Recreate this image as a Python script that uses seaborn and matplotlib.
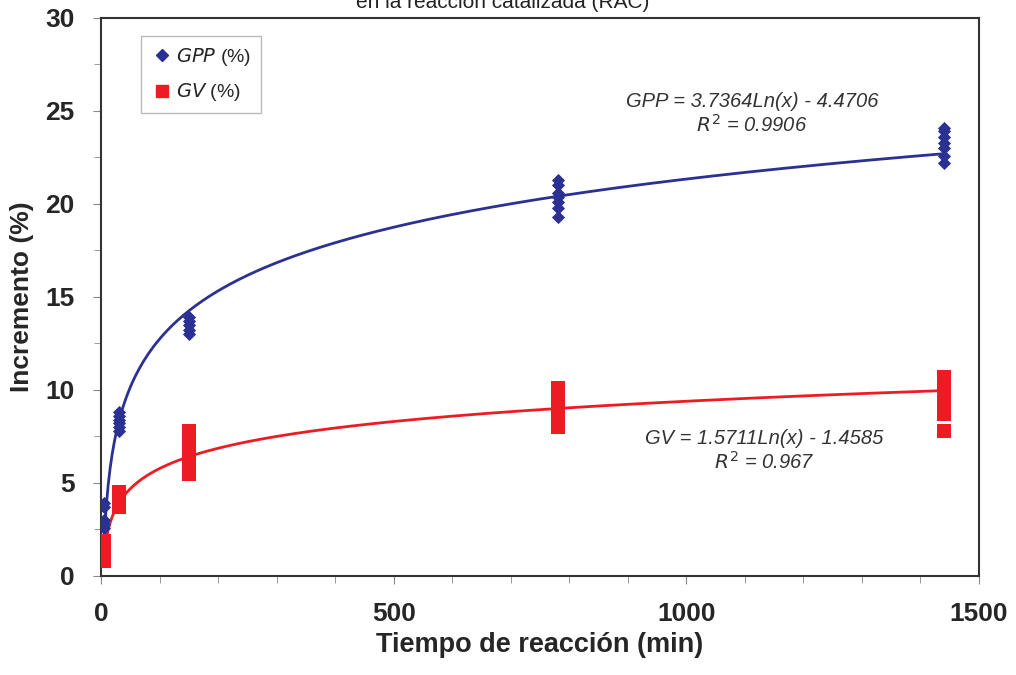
import numpy as np
import pandas as pd
import matplotlib.pyplot as plt
import seaborn as sns
from matplotlib.ticker import MultipleLocator

# tiempo de reacción (min) y réplicas medidas
tiempos = [5, 30, 150, 780, 1440]
gpp_vals = [
    [2.6, 2.8, 3.0, 3.7, 3.9],
    [7.8, 8.0, 8.2, 8.4, 8.6, 8.8],
    [13.0, 13.2, 13.5, 13.7, 13.9],
    [19.3, 19.8, 20.1, 20.4, 20.6, 21.0, 21.3],
    [22.2, 22.6, 23.0, 23.3, 23.6, 23.9, 24.1],
]
gv_vals = [
    [0.8, 1.1, 1.4, 1.7, 1.9],
    [3.7, 4.0, 4.2, 4.5],
    [5.5, 5.8, 6.2, 6.6, 7.0, 7.4, 7.8],
    [8.0, 8.4, 8.8, 9.2, 9.6, 10.1],
    [7.8, 8.7, 9.1, 9.5, 9.9, 10.3, 10.7],
]
# coeficientes de la tendencia logarítmica
gpp_a, gpp_b = 3.7364, -4.4706
gv_a, gv_b = 1.5711, -1.4585

rows = []
for t, g, v in zip(tiempos, gpp_vals, gv_vals):
    rows += [{"t": t, "val": y, "serie": "GPP"} for y in g]
    rows += [{"t": t, "val": y, "serie": "GV"} for y in v]
df = pd.DataFrame(rows)

sns.set_style("white")
plt.rcParams["font.family"] = ["Liberation Sans", "DejaVu Sans"]

blue = "#2b3192"
red = "#ed1c24"

fig = plt.figure(figsize=(10.16, 6.75), dpi=100)
ax = fig.add_axes([0.0994, 0.1467, 0.8642, 0.8267])

xs = np.linspace(5, 1440, 400)
ax.plot(xs, gpp_a * np.log(xs) + gpp_b, color=blue, lw=2, zorder=2)
ax.plot(xs, gv_a * np.log(xs) + gv_b, color=red, lw=2, zorder=2)

sns.scatterplot(data=df[df.serie == "GPP"], x="t", y="val", marker="D",
                color=blue, s=45, edgecolor=blue, linewidth=0, ax=ax, zorder=3)
sns.scatterplot(data=df[df.serie == "GV"], x="t", y="val", marker="s",
                color=red, s=95, edgecolor=red, linewidth=0, ax=ax, zorder=3)

ax.set_xlim(0, 1500)
ax.set_ylim(0, 30)
ax.xaxis.set_major_locator(MultipleLocator(500))
ax.xaxis.set_minor_locator(MultipleLocator(100))
ax.yaxis.set_major_locator(MultipleLocator(5))
ax.yaxis.set_minor_locator(MultipleLocator(2.5))
ax.tick_params(which="both", direction="out", color="#888888", bottom=True, left=True)
ax.tick_params(which="major", length=6, labelsize=19, pad=13)
ax.tick_params(which="minor", length=5)
for lab in ax.get_xticklabels() + ax.get_yticklabels():
    lab.set_fontweight("bold")
for s in ax.spines.values():
    s.set_color("#333333")
    s.set_linewidth(1.5)

ax.set_xlabel("Tiempo de reacción (min)", fontsize=19.5, fontweight="bold", labelpad=4)
ax.set_ylabel("Incremento (%)", fontsize=19, fontweight="bold", labelpad=8)

fig.text(0.495, 0.982, "en la reacción catalizada (RAC)", ha="center", va="bottom",
         fontsize=15, color="#222222")

ax.text(1112, 26.0, "GPP = 3.7364Ln(x) - 4.4706\n$R^2$ = 0.9906", ha="center", va="top",
        fontsize=14.5, style="italic", color="#333333", linespacing=1.15)
ax.text(1133, 7.9, "GV = 1.5711Ln(x) - 1.4585\n$R^2$ = 0.967", ha="center", va="top",
        fontsize=14.5, style="italic", color="#333333", linespacing=1.15)

h1 = plt.Line2D([], [], marker="D", color=blue, ls="none", markersize=6)
h2 = plt.Line2D([], [], marker="s", color=red, ls="none", markersize=8)
leg = ax.legend([h1, h2], ["$\\it{GPP}$ (%)", "$\\it{GV}$ (%)"], loc="upper left",
                bbox_to_anchor=(0.035, 0.985), fontsize=14, frameon=True, fancybox=False,
                handletextpad=0.2, borderpad=0.5, labelspacing=0.7, handlelength=1.1)
leg.get_frame().set_edgecolor("#aaaaaa")
leg.get_frame().set_linewidth(1)

fig.savefig("out.png", dpi=100)
